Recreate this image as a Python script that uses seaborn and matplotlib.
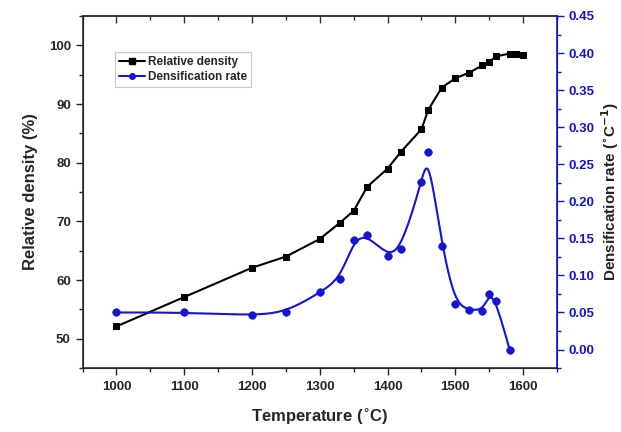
import numpy as np
import pandas as pd
import matplotlib
matplotlib.use("Agg")
import matplotlib.pyplot as plt
import seaborn as sns
from matplotlib.lines import Line2D
from matplotlib.ticker import MultipleLocator

# ---- data ----
temp_density = [1000, 1100, 1200, 1250, 1300, 1330, 1350, 1370, 1400, 1420, 1450,
                 1460, 1480, 1500, 1520, 1540, 1550, 1560, 1580, 1590, 1600]
density = [52.1, 57.1, 62.1, 64.0, 67.0, 69.8, 71.8, 75.9, 79.0, 81.9, 85.7,
           89.0, 92.8, 94.4, 95.3, 96.6, 97.2, 98.1, 98.6, 98.5, 98.4]

temp_rate = [1000, 1100, 1200, 1250, 1300, 1330, 1350, 1370, 1400, 1420, 1450,
             1460, 1480, 1500, 1520, 1540, 1550, 1560, 1580]
rate = [0.050, 0.050, 0.046, 0.050, 0.077, 0.095, 0.148, 0.155, 0.126, 0.136, 0.226,
        0.266, 0.140, 0.061, 0.054, 0.052, 0.075, 0.065, 0.000]

x_ticks = [1000, 1100, 1200, 1300, 1400, 1500, 1600]
left_ticks = [50, 60, 70, 80, 90, 100]
right_ticks = [0.00, 0.05, 0.10, 0.15, 0.20, 0.25, 0.30, 0.35, 0.40, 0.45]

BLUE = "#1414d2"


def bspline(xs, ys, n=40):
    """Clamped uniform cubic B-spline using the data points as control points."""
    P = np.column_stack([xs, ys]).astype(float)
    P = np.vstack([P[0], P[0], P, P[-1], P[-1]])
    M = np.array([[-1, 3, -3, 1], [3, -6, 3, 0], [-3, 0, 3, 0], [1, 4, 1, 0]]) / 6.0
    out = []
    t = np.linspace(0, 1, n)
    T = np.column_stack([t ** 3, t ** 2, t, np.ones_like(t)])
    for i in range(len(P) - 3):
        out.append(T @ M @ P[i:i + 4])
    out = np.vstack(out)
    return out[:, 0], out[:, 1]


sns.set_style("white")
plt.rcParams['font.family'] = ['Liberation Sans', 'DejaVu Sans']
plt.rcParams['font.weight'] = 'bold'
plt.rcParams['mathtext.default'] = 'bf'

fig = plt.figure(figsize=(6.21, 4.32), dpi=100)
ax = fig.add_axes([0.133, 0.148, 0.764, 0.815])
ax2 = ax.twinx()

df_d = pd.DataFrame({"T": temp_density, "d": density})
sns.lineplot(data=df_d, x="T", y="d", ax=ax, color="black", lw=1.5,
             marker="s", markersize=4.3, markeredgecolor="black", legend=False)

sx, sy = bspline(temp_rate, rate)
df_s = pd.DataFrame({"T": sx, "r": sy})
sns.lineplot(data=df_s, x="T", y="r", ax=ax2, color=BLUE, lw=1.5, sort=False,
             estimator=None, legend=False)
df_r = pd.DataFrame({"T": temp_rate, "r": rate})
sns.scatterplot(data=df_r, x="T", y="r", ax=ax2, color=BLUE, s=30,
                edgecolor=BLUE, legend=False, zorder=5)

ax.set_xlim(950, 1650)
ax.set_ylim(45, 105)
ax2.set_ylim(-0.025, 0.45)
ax.set_xticks(x_ticks)
ax.set_yticks(left_ticks)
ax2.set_yticks(right_ticks)
ax.xaxis.set_minor_locator(MultipleLocator(50))
ax.yaxis.set_minor_locator(MultipleLocator(5))
ax2.yaxis.set_minor_locator(MultipleLocator(0.025))
ax2.set_yticklabels([f"{v:.2f}" for v in right_ticks])

ax.tick_params(axis='x', which='both', direction='out', bottom=True, top=False,
               labelsize=9.5, pad=4)
ax.tick_params(axis='x', which='major', length=5, width=1)
ax.tick_params(axis='x', which='minor', length=3, width=1)
ax.tick_params(axis='y', which='major', direction='out', left=True, length=5,
               width=1, labelsize=9.5)
ax.tick_params(axis='y', which='minor', direction='out', left=True, length=3, width=1)
ax2.tick_params(axis='y', which='major', direction='out', right=True, length=5,
                width=1, labelsize=9.5, colors=BLUE)
ax2.tick_params(axis='y', which='minor', direction='out', right=True, length=3,
                width=1, colors=BLUE)
ax2.spines['right'].set_color(BLUE)
for s in ['left', 'bottom', 'top']:
    ax.spines[s].set_color('#333333')
    ax.spines[s].set_linewidth(1.2)
ax2.spines['right'].set_linewidth(1.2)
ax2.spines['top'].set_visible(False)

# top axis with inward ticks
top = ax.secondary_xaxis('top')
top.set_xticks(x_ticks)
top.xaxis.set_minor_locator(MultipleLocator(50))
top.tick_params(axis='x', which='major', direction='in', length=5, width=1,
                labeltop=False, color='#333333')
top.tick_params(axis='x', which='minor', direction='in', length=3, width=1,
                color='#333333')
top.spines['top'].set_color('#333333')
top.spines['top'].set_linewidth(1.2)

for lab in ax.get_xticklabels() + ax.get_yticklabels() + ax2.get_yticklabels():
    lab.set_fontweight('bold')

ax.set_xlabel(r"Temperature ($^{\circ}$C)", fontsize=12, fontweight='bold', labelpad=10)
ax.set_ylabel("Relative density (%)", fontsize=12, fontweight='bold', labelpad=8)
ax2.set_ylabel(r"Densification rate ($^{\circ}$C$^{-1}$)", fontsize=11,
               fontweight='bold', labelpad=3, color='#222222')

handles = [Line2D([0], [0], color='black', lw=1.5, marker='s', markersize=4),
           Line2D([0], [0], color=BLUE, lw=1.5, marker='o', markersize=4)]
leg = ax.legend(handles, ["Relative density", "Densification rate"],
                loc='upper left', bbox_to_anchor=(0.055, 0.915),
                frameon=True, fancybox=False, edgecolor='#bbbbbb',
                handlelength=2.2, handletextpad=0.3, borderpad=0.35,
                labelspacing=0.25, prop={'weight': 'bold', 'size': 8.5})
leg.get_frame().set_linewidth(0.8)

fig.savefig("out.png", dpi=100)
